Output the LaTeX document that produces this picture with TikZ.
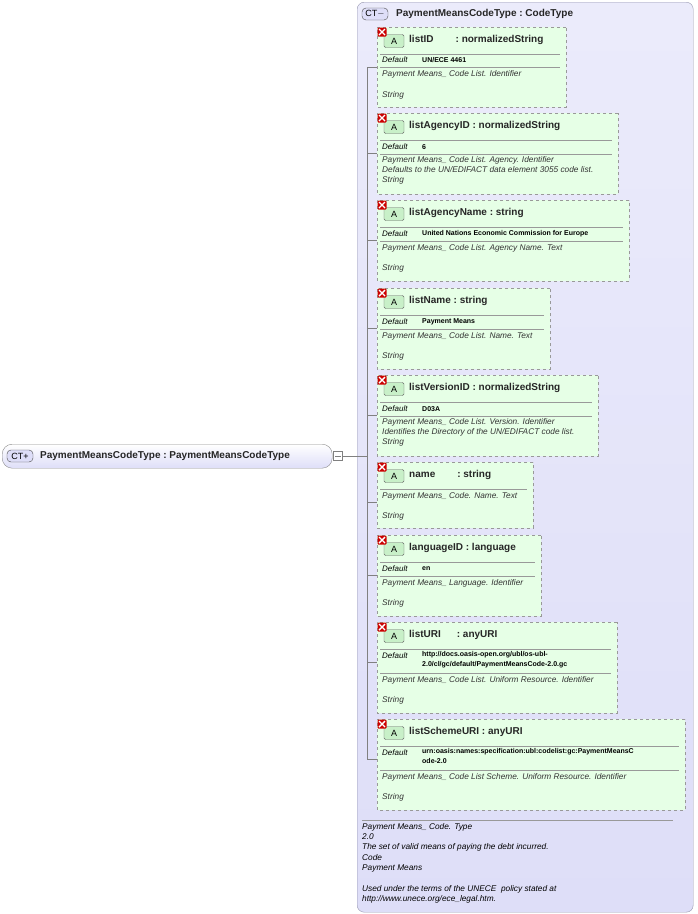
\documentclass[tikz,border=0pt]{standalone}
\usepackage{fontspec}
\setmainfont{Liberation Sans}
\usetikzlibrary{shapes.misc}
\definecolor{lav}{RGB}{222,222,248}
\definecolor{lavd}{RGB}{150,150,175}
\definecolor{gfill}{RGB}{230,255,230}
\definecolor{gicon}{RGB}{200,240,200}
\tikzset{
 abox/.style={chamfered rectangle, chamfered rectangle corners=south west, chamfered rectangle xsep=7pt, chamfered rectangle ysep=7pt, draw=black!40, dashed, fill=gfill, inner sep=0pt},
 conn/.style={draw=black!50, line width=0.5pt},
 sep/.style={draw=black!40, line width=0.6pt},
 ttl/.style={anchor=west, inner sep=0pt, font=\fontsize{10}{12}\selectfont\bfseries, text=black!85},
 icn/.style={draw=black!70, fill=lav, rounded corners=4pt, minimum width=26pt, minimum height=12pt, inner sep=0pt, font=\fontsize{9}{9}\selectfont},
 dfl/.style={anchor=west, inner sep=0pt, font=\fontsize{8}{9}\selectfont\itshape},
 dval/.style={anchor=west, inner sep=0pt, align=left, font=\fontsize{7}{10.5}\selectfont\bfseries},
 dsc/.style={anchor=west, inner sep=0pt, align=left, font=\fontsize{8.3}{10.3}\selectfont\itshape, text=black!80},
}
\newcommand\attrbox[5]{%
 \node[abox, minimum width={#4pt-377pt}, minimum height={#3pt-#2pt}, anchor=north west] (#1) at (377,#2) {};
 \draw[conn] (367,#2+40) -- (377,#2+40);
 \node[draw=black!60, fill=gicon, rounded corners=1.5pt, minimum width=20pt, minimum height=13pt, inner sep=0pt, font=\fontsize{9}{9}\selectfont] (#1a) at (394,#2+14) {A};
 \node[fill=red!80!black, minimum size=9pt, inner sep=0pt, rounded corners=1pt] (#1x) at (382,#2+5) {};
 \draw[white, line width=1.4pt] (379,#2+2) -- (385,#2+8) (379,#2+8) -- (385,#2+2);
 \node[ttl] (#1t) at (409,#2+13) {#5};
 \draw[sep] (380,#2+27) -- (#4-6,#2+27);
}
\begin{document}
\begin{tikzpicture}[x=1pt,y=-1pt]
\useasboundingbox (0,0) rectangle (697,914);
% container
\node[draw=lavd, rounded corners=7pt, top color=lav!60, bottom color=lav, minimum width=336pt, minimum height=910pt, anchor=north west, inner sep=0pt] (ct) at (357,2) {};
\node[icn] (cti) at (375,14) {CT$-$};
\node[ttl] (ctt) at (396,14) {PaymentMeansCodeType\ :\ CodeType};
% left node
\node[draw=black!45, rounded corners=10pt, top color=white, bottom color=lav, minimum width=330pt, minimum height=24pt, anchor=north west, inner sep=0pt] (pm) at (2,444) {};
\node[icn] (pmi) at (20,456) {CT+};
\node[ttl] (pmt) at (40,456) {PaymentMeansCodeType\ :\ PaymentMeansCodeType};
\node[draw=black!50, fill=white, minimum size=9pt, inner sep=0pt] (col) at (338,456) {};
\draw[black!50] (335,456) -- (341,456);
\coordinate (vtop) at (367,67);
\coordinate (vbot) at (367,759);
\coordinate (vj) at (367,456);
\draw[conn] (col) -- (vj);
\draw[conn] (vtop) -- (vbot);
% boxes
\attrbox{b1}{27}{107}{566}{listID\hspace{22pt}:\ normalizedString}
\node[dfl] at (382,60) {Default}; \node[dval] at (422,60) {UN/ECE 4461};
\draw[sep] (380,67) -- (560,67);
\node[dsc] at (382,74) {Payment Means\_ Code List. Identifier};
\node[dsc] at (382,95) {String};

\attrbox{b2}{113}{194}{618}{listAgencyID\ :\ normalizedString}
\node[dfl] at (382,147) {Default}; \node[dval] at (422,147) {6};
\draw[sep] (380,154) -- (612,154);
\node[dsc, anchor=north west] at (382,156) {Payment Means\_ Code List. Agency. Identifier\\Defaults to the UN/EDIFACT data element 3055 code list.\\String};

\attrbox{b3}{200}{281}{629}{listAgencyName\ :\ string}
\node[dfl] at (382,234) {Default}; \node[dval] at (422,234) {United Nations Economic Commission for Europe};
\draw[sep] (380,241) -- (623,241);
\node[dsc] at (382,248) {Payment Means\_ Code List. Agency Name. Text};
\node[dsc] at (382,268) {String};

\attrbox{b4}{288}{369}{550}{listName\ :\ string}
\node[dfl] at (382,322) {Default}; \node[dval] at (422,322) {Payment Means};
\draw[sep] (380,329) -- (544,329);
\node[dsc] at (382,336) {Payment Means\_ Code List. Name. Text};
\node[dsc] at (382,356) {String};

\attrbox{b5}{375}{456}{598}{listVersionID\ :\ normalizedString}
\node[dfl] at (382,409) {Default}; \node[dval] at (422,409) {D03A};
\draw[sep] (380,416) -- (592,416);
\node[dsc, anchor=north west] at (382,418) {Payment Means\_ Code List. Version. Identifier\\Identifies the Directory of the UN/EDIFACT code list.\\String};

\attrbox{b6}{462}{528}{533}{name\hspace{22pt}:\ string}
\node[dsc] at (382,496) {Payment Means\_ Code. Name. Text};
\node[dsc] at (382,516) {String};

\attrbox{b7}{535}{616}{541}{languageID\ :\ language}
\node[dfl] at (382,569) {Default}; \node[dval] at (422,569) {en};
\draw[sep] (380,576) -- (535,576);
\node[dsc] at (382,583) {Payment Means\_ Language. Identifier};
\node[dsc] at (382,603) {String};

\attrbox{b8}{622}{713}{617}{listURI\hspace{16pt}:\ anyURI}
\node[dfl] at (382,656) {Default};
\node[dval, anchor=north west] at (422,651) {http://docs.oasis-open.org/ubl/os-ubl-\\2.0/cl/gc/default/PaymentMeansCode-2.0.gc};
\draw[sep] (380,673) -- (611,673);
\node[dsc] at (382,680) {Payment Means\_ Code List. Uniform Resource. Identifier};
\node[dsc] at (382,700) {String};

\attrbox{b9}{719}{810}{685}{listSchemeURI\ :\ anyURI}
\node[dfl] at (382,753) {Default};
\node[dval, anchor=north west] at (422,748) {urn:oasis:names:specification:ubl:codelist:gc:PaymentMeansC\\ode-2.0};
\draw[sep] (380,770) -- (679,770);
\node[dsc] at (382,777) {Payment Means\_ Code List Scheme. Uniform Resource. Identifier};
\node[dsc] at (382,797) {String};

% footer
\draw[sep] (362,820) -- (673,820);
\node[dsc, anchor=north west, text=black] (ft) at (362,823) {Payment Means\_ Code. Type\\2.0\\The set of valid means of paying the debt incurred.\\Code\\Payment Means\\[10.3pt]Used under the terms of the UNECE\ \ policy stated at\\http://www.unece.org/ece\_legal.htm.};
\end{tikzpicture}
\end{document}
